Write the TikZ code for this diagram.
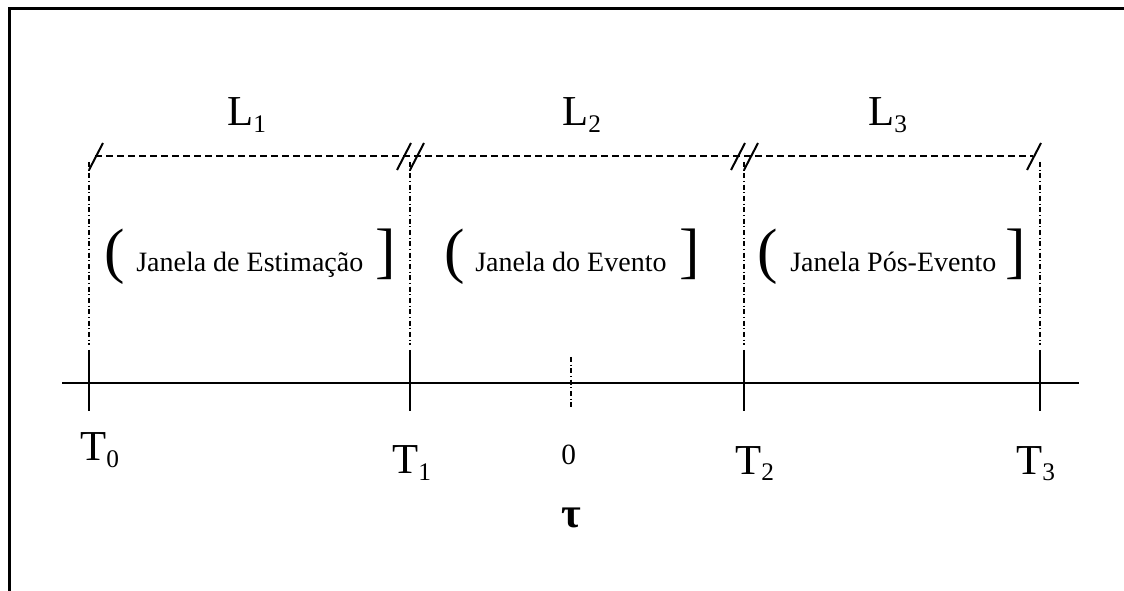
\documentclass[tikz,border=0pt]{standalone}
\usepackage{fontspec}
\setmainfont{Liberation Serif}

\newcommand*{\yAxis}{383}
\newcommand*{\ySpan}{156}
\newcommand*{\yTickTop}{350}
\newcommand*{\yTickBot}{411}
\newcommand*{\yWin}{272}
\newcommand*{\bigFont}{\fontsize{32}{32}\selectfont}
\newcommand*{\subFont}{\fontsize{19}{19}\selectfont}
\newcommand*{\winFont}{\fontsize{21}{21}\selectfont}
\newcommand*{\brFont}{\fontsize{46}{46}\selectfont}
\newcommand{\sublabel}[2]{{\bigFont #1}\raisebox{-5.25pt}{\subFont #2}}

\tikzset{
    guide/.style={line width=1.1pt, dash pattern=on 3.75pt off 2pt on 0.75pt off 2pt},
    spanline/.style={line width=1.4pt, dash pattern=on 5.25pt off 3pt},
    breakmark/.style={line width=1.5pt},
    lbl/.style={anchor=base west, inner sep=0pt},
    wintext/.style={lbl, font=\winFont},
    winbrace/.style={lbl, font=\brFont}
}

\begin{document}
\begin{tikzpicture}[x=0.75pt,y=-0.75pt]
\useasboundingbox (0,0) rectangle (1124,591);

% frame
\draw[line width=2.25pt] (1124,9) -- (9,9) -- (9,591);

% time axis
\draw[line width=2pt] (62,\yAxis) -- (1079,\yAxis);

% boundaries T0 ... T3
\foreach \x in {89,410,744,1040} {
    \draw[line width=1.5pt] (\x,\yTickTop) -- (\x,\yTickBot);
    \draw[guide] (\x,162) -- (\x,345);
}
% event date
\draw[guide] (571,357) -- (571,409);

% windows lengths
\draw[spanline] (95,\ySpan) -- (1033,\ySpan);
\foreach \x in {410,744,1040} \draw[breakmark] (\x-13,170) -- (\x+1,143);
\foreach \x in {89,410,744} \draw[breakmark] (\x,170) -- (\x+14,143);

\node[lbl] (L1) at (227,126) {\sublabel{L}{1}};
\node[lbl] (L2) at (562,126) {\sublabel{L}{2}};
\node[lbl] (L3) at (868,126) {\sublabel{L}{3}};

% windows
\node[winbrace] (open1) at (104,\yWin) {(};
\node[wintext] (win1) at (136,\yWin) {Janela de Estimação};
\node[winbrace] (close1) at (375,\yWin) {]};
\node[winbrace] (open2) at (444,\yWin) {(};
\node[wintext] (win2) at (475,\yWin) {Janela do Evento};
\node[winbrace] (close2) at (679,\yWin) {]};
\node[winbrace] (open3) at (757,\yWin) {(};
\node[wintext] (win3) at (790,\yWin) {Janela Pós-Evento};
\node[winbrace] (close3) at (1005,\yWin) {]};

% axis labels
\node[lbl] (T0) at (80,460) {\sublabel{T}{0}};
\node[lbl] (T1) at (392,473) {\sublabel{T}{1}};
\node[lbl] (T2) at (735,474) {\sublabel{T}{2}};
\node[lbl] (T3) at (1016,474) {\sublabel{T}{3}};
\node[lbl, font=\fontsize{22}{22}\selectfont] (zero) at (561,464) {0};
\node[lbl, font=\bigFont\bfseries] (tau) at (561,527) {τ};

\end{tikzpicture}
\end{document}
